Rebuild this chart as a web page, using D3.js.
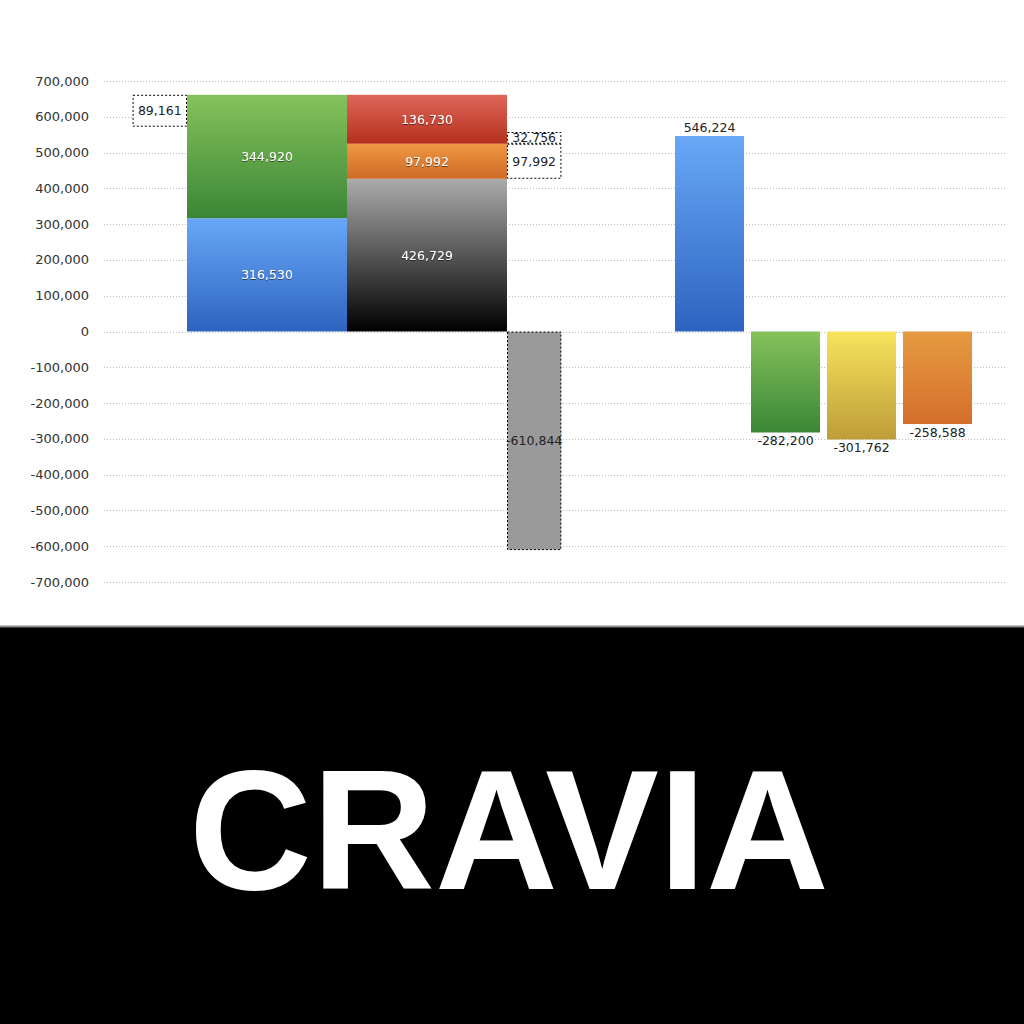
<!DOCTYPE html>
<html>
<head>
<meta charset="utf-8">
<script src="https://cdn.jsdelivr.net/npm/d3@7"></script>
<style>
  body { margin: 0; background: #fff; }
  svg { display: block; }
  .tick-label { font-family: "DejaVu Sans", sans-serif; font-size: 13px; fill: #333; }
  .val { font-family: "DejaVu Sans", sans-serif; font-size: 12.5px; fill: #222; }
  .val-in { font-family: "DejaVu Sans", sans-serif; font-size: 12.5px; fill: #fff; }
</style>
</head>
<body>
<svg id="chart" width="1024" height="1024"></svg>
<script>
/* ================================
   DATA
================================ */
const stackCats = ["col1", "col2"];
const col1Values = [316530, 344920];          // blue, green (bottom -> top)
const col1Colors = ["blue", "green"];
const col2Values = [426729, 97992, 136730];   // black, orange, red
const col2Colors = ["black", "orange", "red"];
const leftAdjust = 89161;                     // dashed box, left of col1, hanging from its top
const rightAdjust = [97992, 32756];           // dashed boxes, right of col2, above the black segment
const negativeTotal = -610844;                // grey dashed bar under the zero line

const rightCats = ["A", "B", "C", "D"];
const rightValues = [546224, -282200, -301762, -258588];
const rightColors = ["blue", "green", "yellow", "orange2"];

const yTicks = [700000, 600000, 500000, 400000, 300000, 200000, 100000, 0,
  -100000, -200000, -300000, -400000, -500000, -600000, -700000];

const logoText = "CRAVIA";

/* ================================
   SETUP
================================ */
const svg = d3.select("#chart");
const W = 1024;

const fmt = d3.formatLocale({
  decimal: ".", thousands: ",", grouping: [3], currency: ["", ""], minus: "-"
}).format(",");

const gradients = {
  blue:    ["#68a8f6", "#2d63c0"],
  green:   ["#86c25b", "#3a8636"],
  red:     ["#de665a", "#b5301c"],
  orange:  ["#ee9842", "#cf6a27"],
  black:   ["#ababab", "#000000"],
  yellow:  ["#f7e45c", "#bd9d39"],
  orange2: ["#e69b41", "#d56f2b"]
};

const defs = svg.append("defs");
Object.entries(gradients).forEach(([name, [top, bottom]]) => {
  const g = defs.append("linearGradient")
    .attr("id", "grad-" + name)
    .attr("x1", 0).attr("y1", 0).attr("x2", 0).attr("y2", 1);
  g.append("stop").attr("offset", "0%").attr("stop-color", top);
  g.append("stop").attr("offset", "100%").attr("stop-color", bottom);
});

const shadow = defs.append("filter").attr("id", "txt-shadow")
  .attr("x", "-10%").attr("y", "-30%").attr("width", "120%").attr("height", "160%");
shadow.append("feDropShadow")
  .attr("dx", 0).attr("dy", 1).attr("stdDeviation", 0.5)
  .attr("flood-color", "#000").attr("flood-opacity", 0.5);

/* ================================
   SCALES
================================ */
const plotLeft = 104, plotRight = 1006;

const y = d3.scaleLinear()
  .domain([-700000, 700000])
  .range([582, 81]);

const xStack = d3.scaleBand()
  .domain(stackCats)
  .range([187, 507])
  .padding(0);

const sideW = xStack.bandwidth() * 0.34;

const xRight = d3.scaleBand()
  .domain(rightCats)
  .range([675, 972])
  .paddingInner(0.092)
  .paddingOuter(0);

/* ================================
   GRID + AXIS
================================ */
const grid = svg.append("g");
grid.selectAll("line")
  .data(yTicks)
  .join("line")
  .attr("x1", plotLeft)
  .attr("x2", plotRight)
  .attr("y1", d => Math.round(y(d)) + 0.5)
  .attr("y2", d => Math.round(y(d)) + 0.5)
  .attr("stroke", "#bdbdbd")
  .attr("stroke-width", 1)
  .attr("stroke-dasharray", "1,2");

svg.append("g")
  .selectAll("text")
  .data(yTicks)
  .join("text")
  .attr("class", "tick-label")
  .attr("x", 89)
  .attr("y", d => y(d))
  .attr("dy", "0.35em")
  .attr("text-anchor", "end")
  .text(d => fmt(d));

/* ================================
   STACKED COLUMNS
================================ */
function stackSegments(cat, values, colors) {
  const tops = Array.from(d3.cumsum(values));
  return values.map((v, i) => ({
    cat, value: v, color: colors[i],
    y0: tops[i] - v, y1: tops[i]
  }));
}

const segments = [
  ...stackSegments("col1", col1Values, col1Colors),
  ...stackSegments("col2", col2Values, col2Colors)
];

const stackG = svg.append("g");
stackG.selectAll("rect")
  .data(segments)
  .join("rect")
  .attr("x", d => xStack(d.cat))
  .attr("width", xStack.bandwidth())
  .attr("y", d => y(d.y1))
  .attr("height", d => y(d.y0) - y(d.y1))
  .attr("fill", d => `url(#grad-${d.color})`);

stackG.selectAll("text")
  .data(segments)
  .join("text")
  .attr("class", "val-in")
  .attr("filter", "url(#txt-shadow)")
  .attr("x", d => xStack(d.cat) + xStack.bandwidth() / 2)
  .attr("y", d => y((d.y0 + d.y1) / 2))
  .attr("dy", "0.35em")
  .attr("text-anchor", "middle")
  .text(d => fmt(d.value));

/* ================================
   DASHED ADJUSTMENT BOXES
================================ */
const col1Top = d3.sum(col1Values);
const rightBase = col2Values[0];
const rightTops = Array.from(d3.cumsum(rightAdjust), v => v + rightBase);

const boxes = [
  { value: leftAdjust, x: xStack("col1") - sideW, y0: col1Top - leftAdjust, y1: col1Top, fill: "#fff" },
  ...rightAdjust.map((v, i) => ({
    value: v, x: xStack("col2") + xStack.bandwidth(),
    y0: rightTops[i] - v, y1: rightTops[i], fill: "#fff"
  })),
  { value: negativeTotal, x: xStack("col2") + xStack.bandwidth(), y0: negativeTotal, y1: 0, fill: "#9a9a9a" }
];

const boxG = svg.append("g");
boxG.selectAll("rect")
  .data(boxes)
  .join("rect")
  .attr("x", d => d.x + 0.5)
  .attr("width", sideW - 1)
  .attr("y", d => y(d.y1) + 0.5)
  .attr("height", d => y(d.y0) - y(d.y1) - 1)
  .attr("fill", d => d.fill)
  .attr("stroke", "#000")
  .attr("stroke-width", 1)
  .attr("stroke-dasharray", "2,2");

boxG.selectAll("text")
  .data(boxes)
  .join("text")
  .attr("class", "val")
  .attr("x", d => d.x + sideW / 2)
  .attr("y", d => y((d.y0 + d.y1) / 2))
  .attr("dy", "0.35em")
  .attr("text-anchor", "middle")
  .text(d => fmt(d.value));

/* ================================
   RIGHT BARS
================================ */
const rightData = rightCats.map((c, i) => ({ cat: c, value: rightValues[i], color: rightColors[i] }));

const rightG = svg.append("g");
rightG.selectAll("rect")
  .data(rightData)
  .join("rect")
  .attr("x", d => xRight(d.cat))
  .attr("width", xRight.bandwidth())
  .attr("y", d => y(Math.max(0, d.value)))
  .attr("height", d => Math.abs(y(d.value) - y(0)))
  .attr("fill", d => `url(#grad-${d.color})`);

rightG.selectAll("text")
  .data(rightData)
  .join("text")
  .attr("class", "val")
  .attr("x", d => xRight(d.cat) + xRight.bandwidth() / 2)
  .attr("y", d => d.value >= 0 ? y(d.value) - 4 : y(d.value) + 13)
  .attr("text-anchor", "middle")
  .text(d => fmt(d.value));

/* ================================
   LOGO BAND
================================ */
svg.append("rect")
  .attr("x", 0).attr("y", 627)
  .attr("width", W).attr("height", 1024 - 627)
  .attr("fill", "#000");

svg.append("line")
  .attr("x1", 0).attr("x2", W)
  .attr("y1", 626.5).attr("y2", 626.5)
  .attr("stroke", "#8a8a8a")
  .attr("stroke-width", 2);

svg.append("text")
  .attr("x", 509)
  .attr("y", 889)
  .attr("text-anchor", "middle")
  .attr("font-family", "'Liberation Sans', Arial, sans-serif")
  .attr("font-weight", "bold")
  .attr("font-size", 170)
  .attr("textLength", 640)
  .attr("lengthAdjust", "spacingAndGlyphs")
  .attr("fill", "#fff")
  .text(logoText);
</script>
</body>
</html>
